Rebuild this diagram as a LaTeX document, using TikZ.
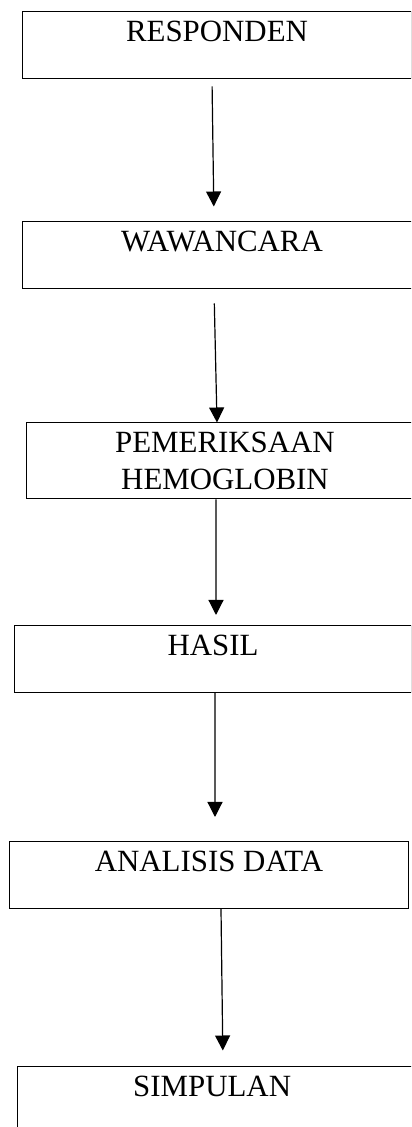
\documentclass[tikz,border=0pt]{standalone}
\usepackage{fontspec}
\setmainfont{Liberation Serif}
\usetikzlibrary{arrows.meta, positioning}

\tikzset{
	kotak/.style = {draw, line width=1bp, rectangle, inner xsep=0pt, inner ysep=8bp, align=center},
	satubaris/.style = {kotak, text height=22bp, text depth=29bp},
}

\begin{document}
\begin{tikzpicture}[x=1bp, y=1bp, font=\fontsize{31}{37}\selectfont, >={Triangle[width=15bp, length=15bp]}]
	\useasboundingbox (0,0) rectangle (411,1127);
	\clip (0,0) rectangle (411,1127);
	% single line boxes
	\foreach \N/\X/\Y/\W/\T in { 1/217/1081.5/388/{RESPONDEN},
								 2/222/871.5/398/{WAWANCARA},
								 4/213/468/396/{HASIL},
								 5/209/252/398/{ANALISIS DATA},
								 6/216/26.5/396/{SIMPULAN}
		} {
		\node[satubaris, minimum width=\W bp](tahap\N) at (\X,\Y) {\T};
		}
	% two line box
	\node[kotak, inner ysep=0pt, minimum width=396bp, minimum height=76bp](tahap3) at (225,666) {PEMERIKSAAN\\HEMOGLOBIN};
	% arrows, one by one
	\draw[->, line width=1.2bp, shorten <=7bp, shorten >=15bp] ([xshift=-5bp]tahap1.south) -- ([xshift=-8bp]tahap2.north);
	\draw[->, line width=1.2bp, shorten <=14bp] ([xshift=-8bp]tahap2.south) -- ([xshift=-8bp]tahap3.north);
	\draw[->, line width=1.2bp, shorten >=10bp] ([xshift=-9bp]tahap3.south) -- ([xshift=3bp]tahap4.north);
	\draw[->, line width=1.2bp, shorten >=24bp] ([xshift=2bp]tahap4.south) -- ([xshift=6bp]tahap5.north);
	\draw[->, line width=1.2bp, shorten >=16bp] ([xshift=12bp]tahap5.south) -- ([xshift=7bp]tahap6.north);
\end{tikzpicture}
\end{document}
